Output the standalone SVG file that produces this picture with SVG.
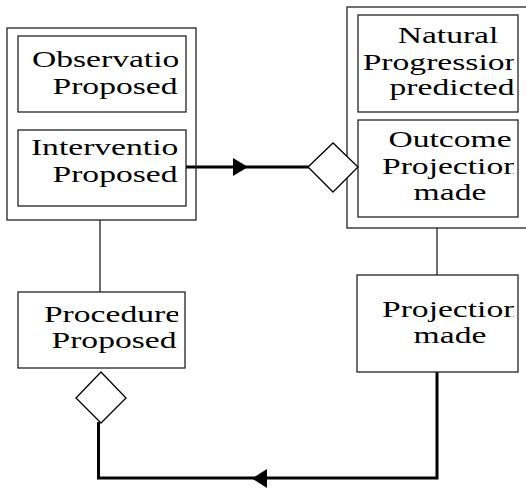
<svg xmlns="http://www.w3.org/2000/svg" width="526" height="488" viewBox="0 0 526 488">
<style>
.box{fill:#fff;stroke:#222;stroke-width:1.3}
.cont{fill:none;stroke:#222;stroke-width:1.3}
.t{font-family:"Liberation Serif","Times New Roman",serif;font-size:24px;fill:#000;text-anchor:middle}
.thin{fill:none;stroke:#222;stroke-width:1.3}
.thick{fill:none;stroke:#000;stroke-width:3}
.dia{fill:#fff;stroke:#000;stroke-width:1.3}
</style>
<defs>
<clipPath id="c1"><rect x="18" y="36" width="160" height="76"/></clipPath>
<clipPath id="c2"><rect x="18" y="130" width="160" height="76"/></clipPath>
<clipPath id="c3"><rect x="358" y="15" width="156" height="97"/></clipPath>
<clipPath id="c4"><rect x="358" y="120" width="156" height="97"/></clipPath>
<clipPath id="c5"><rect x="18" y="292" width="160" height="76"/></clipPath>
<clipPath id="c6"><rect x="358" y="275" width="156" height="97"/></clipPath>
</defs>
<g id="connectors">
<line class="thin" x1="100" y1="220" x2="100" y2="292"/>
<line class="thin" x1="437" y1="228" x2="437" y2="275"/>
<line class="thick" x1="185" y1="167" x2="310" y2="167"/>
<polygon points="233,158 248,167 233,176" fill="#000"/>
<polyline class="thick" points="437,372 437,478 98.5,478 98.5,422"/>
<polygon points="267,469 252,478.5 267,488" fill="#000"/>
</g>
<g id="left-container">
<rect class="cont" x="7" y="28" width="189" height="192"/>
</g>
<g id="right-container">
<rect class="cont" x="347" y="7" width="185" height="221"/>
</g>
<g id="observation">
<rect class="box" x="18" y="36" width="168" height="76"/>
<g clip-path="url(#c1)">
<text class="t" transform="translate(114,67) scale(1.4,1)">Observation</text>
<text class="t" transform="translate(115,94) scale(1.4,1)">Proposed</text>
</g>
</g>
<g id="intervention">
<rect class="box" x="18" y="130" width="168" height="76"/>
<g clip-path="url(#c2)">
<text class="t" transform="translate(113,155) scale(1.4,1)">Intervention</text>
<text class="t" transform="translate(115,182) scale(1.4,1)">Proposed</text>
</g>
</g>
<g id="natural">
<rect class="box" x="358" y="15" width="160" height="97"/>
<g clip-path="url(#c3)">
<text class="t" transform="translate(448,43) scale(1.4,1)">Natural</text>
<text class="t" transform="translate(442,70) scale(1.4,1)">Progression</text>
<text class="t" transform="translate(452,95) scale(1.4,1)">predicted</text>
</g>
</g>
<g id="outcome">
<rect class="box" x="358" y="120" width="160" height="97"/>
<g clip-path="url(#c4)">
<text class="t" transform="translate(450,147) scale(1.4,1)">Outcome</text>
<text class="t" transform="translate(451,174) scale(1.4,1)">Projection</text>
<text class="t" transform="translate(450,200) scale(1.4,1)">made</text>
</g>
</g>
<g id="diamond-1">
<polygon class="dia" points="308,167 333,143 358,167 333,192"/>
</g>
<g id="procedure">
<rect class="box" x="18" y="292" width="167" height="76"/>
<g clip-path="url(#c5)">
<text class="t" transform="translate(112,322) scale(1.4,1)">Procedure</text>
<text class="t" transform="translate(114,348) scale(1.4,1)">Proposed</text>
</g>
</g>
<g id="diamond-2">
<polygon class="dia" points="101,372 126,398 101,423 76,398"/>
</g>
<g id="projection">
<rect class="box" x="357" y="275" width="161" height="97"/>
<g clip-path="url(#c6)">
<text class="t" transform="translate(451,317) scale(1.4,1)">Projection</text>
<text class="t" transform="translate(450,343) scale(1.4,1)">made</text>
</g>
</g>
</svg>
